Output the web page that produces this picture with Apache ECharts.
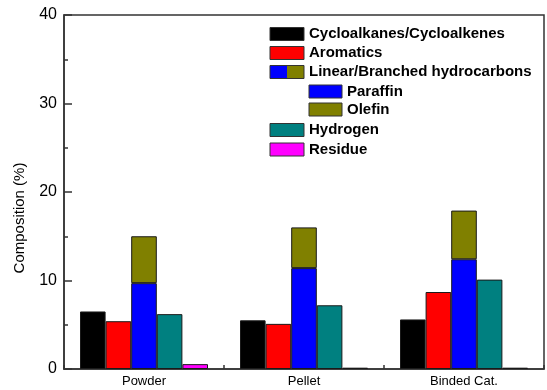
<!DOCTYPE html>
<html>
<head>
<meta charset="utf-8">
<script src="https://cdn.jsdelivr.net/npm/echarts@6/dist/echarts.min.js"></script>
<style>
  html, body { margin: 0; padding: 0; background: #fff; }
  #chart { width: 547px; height: 390px; }
</style>
</head>
<body>
<div id="chart"></div>
<script>
// Product composition by catalyst form (%)
const categories = ['Powder', 'Pellet', 'Binded Cat.'];
const cycloalkanes = [6.5, 5.5, 5.6];
const aromatics = [5.4, 5.1, 8.7];
const paraffin = [9.7, 11.4, 12.4];
const olefin = [5.3, 4.6, 5.5];
const hydrogen = [6.2, 7.2, 10.1];
const residue = [0.55, 0.15, 0.15];
const yTicks = [0, 10, 20, 30, 40];

const COLORS = {
  cyclo: '#000000',
  arom: '#ff0000',
  par: '#0000ff',
  ole: '#808000',
  h2: '#008080',
  res: '#ff00ff'
};

const FONT = 'Liberation Sans, Arial, sans-serif';

function barSeries(name, data, color, stack) {
  const s = {
    name: name,
    type: 'bar',
    data: data,
    barGap: '0%',
    barCategoryGap: '20%',
    itemStyle: { color: color, borderColor: '#1a1a1a', borderWidth: 1 },
    emphasis: { disabled: true },
    animation: false
  };
  if (stack) s.stack = stack;
  return s;
}

// Legend rows: label, swatch fill(s), indent level, row centre y
const legendRows = [
  { label: 'Cycloalkanes/Cycloalkenes', fills: [COLORS.cyclo], indent: 0, y: 34 },
  { label: 'Aromatics', fills: [COLORS.arom], indent: 0, y: 53 },
  { label: 'Linear/Branched hydrocarbons', fills: [COLORS.par, COLORS.ole], indent: 0, y: 72 },
  { label: 'Paraffin', fills: [COLORS.par], indent: 1, y: 91.5 },
  { label: 'Olefin', fills: [COLORS.ole], indent: 1, y: 109.5 },
  { label: 'Hydrogen', fills: [COLORS.h2], indent: 0, y: 130 },
  { label: 'Residue', fills: [COLORS.res], indent: 0, y: 149.5 }
];

const legendGraphics = [];
legendRows.forEach(function (row) {
  const x0 = row.indent ? 309 : 270;
  const w = row.indent ? 33 : 34;
  const h = 13;
  const top = row.y - h / 2;
  const part = w / row.fills.length;
  row.fills.forEach(function (fill, i) {
    legendGraphics.push({
      type: 'rect',
      shape: { x: x0 + i * part, y: top, width: part, height: h },
      style: { fill: fill, stroke: null },
      silent: true
    });
  });
  legendGraphics.push({
    type: 'rect',
    shape: { x: x0, y: top, width: w, height: h },
    style: { fill: null, stroke: '#333', lineWidth: 1 },
    silent: true
  });
  legendGraphics.push({
    type: 'text',
    x: x0 + w + 5,
    y: row.y,
    style: {
      text: row.label,
      font: 'bold 15px ' + FONT,
      fill: '#000',
      textVerticalAlign: 'middle'
    },
    silent: true
  });
});

legendGraphics.push({
  type: 'text',
  x: 20,
  y: 218,
  rotation: Math.PI / 2,
  style: {
    text: 'Composition (%)',
    font: '15px ' + FONT,
    fill: '#000',
    textAlign: 'center',
    textVerticalAlign: 'middle'
  },
  silent: true
});

const chart = echarts.init(document.getElementById('chart'), null, { renderer: 'canvas' });
chart.setOption({
  animation: false,
  backgroundColor: '#fff',
  grid: {
    left: 64, top: 15, right: 3, bottom: 21,
    show: true, borderColor: '#333', borderWidth: 1.5, backgroundColor: 'transparent'
  },
  xAxis: {
    type: 'category',
    data: categories,
    axisLine: { lineStyle: { color: '#333', width: 1.5 } },
    axisTick: { show: true, inside: true, length: 4, alignWithLabel: false, lineStyle: { color: '#333', width: 1.5 } },
    axisLabel: { color: '#000', fontSize: 13, fontFamily: FONT, margin: 6 },
    splitLine: { show: false }
  },
  yAxis: {
    type: 'value',
    min: yTicks[0],
    max: yTicks[yTicks.length - 1],
    interval: 10,
    axisLine: { show: true, lineStyle: { color: '#333', width: 1.5 } },
    axisTick: { show: true, inside: true, length: 8, lineStyle: { color: '#333', width: 1.5 } },
    minorTick: { show: true, splitNumber: 2, length: 4, lineStyle: { color: '#333', width: 1.5 } },
    axisLabel: { color: '#000', fontSize: 16, fontFamily: FONT, margin: 7 },
    splitLine: { show: false }
  },
  series: [
    barSeries('Cycloalkanes/Cycloalkenes', cycloalkanes, COLORS.cyclo),
    barSeries('Aromatics', aromatics, COLORS.arom),
    barSeries('Paraffin', paraffin, COLORS.par, 'linear'),
    barSeries('Olefin', olefin, COLORS.ole, 'linear'),
    barSeries('Hydrogen', hydrogen, COLORS.h2),
    barSeries('Residue', residue, COLORS.res)
  ],
  graphic: legendGraphics
});
</script>
</body>
</html>
